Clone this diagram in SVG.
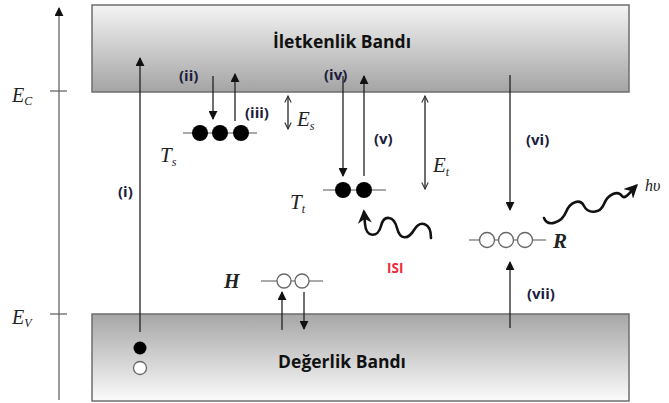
<svg xmlns="http://www.w3.org/2000/svg" width="669" height="403" viewBox="0 0 669 403">
  <style>
    .band { stroke: #6e6e6e; stroke-width: 1.5; }
    .bandtxt { font-family: "Open Sans", "Liberation Sans", sans-serif; font-weight: bold; font-size: 17.5px; fill: #111; }
    .lbl { font-family: "Open Sans", "Liberation Sans", sans-serif; font-weight: bold; font-size: 15px; fill: #1c1c3c; }
    .math { font-family: "Liberation Serif", "DejaVu Serif", serif; font-style: italic; fill: #222; }
    .ln { stroke: #222; stroke-width: 1.3; fill: none; }
    .axis { stroke: #666; stroke-width: 1.3; fill: none; }
    .lvl { stroke: #555; stroke-width: 1.2; }
    .full { fill: #000; }
    .empty { fill: #fff; stroke: #666; stroke-width: 1.3; }
    .wave { stroke: #111; stroke-width: 2.6; fill: none; stroke-linecap: round; }
  </style>
  <defs>
    <linearGradient id="gradCB" x1="0" y1="0" x2="0" y2="1">
      <stop offset="0" stop-color="#f4f4f4"/>
      <stop offset="1" stop-color="#a4a4a4"/>
    </linearGradient>
    <linearGradient id="gradVB" x1="0" y1="0" x2="0" y2="1">
      <stop offset="0" stop-color="#a6a6a6"/>
      <stop offset="1" stop-color="#fbfbfb"/>
    </linearGradient>
    <marker id="ah" viewBox="0 0 10 10" refX="9" refY="5" markerWidth="9" markerHeight="9" markerUnits="userSpaceOnUse" orient="auto">
      <path d="M0,0 L10,5 L0,10 Z" fill="#111"/>
    </marker>
    <marker id="ahOpen" viewBox="0 0 10 10" refX="9" refY="5" markerWidth="8" markerHeight="8" markerUnits="userSpaceOnUse" orient="auto-start-reverse">
      <path d="M1,1 L9,5 L1,9" fill="none" stroke="#333" stroke-width="1.4"/>
    </marker>
    <marker id="ahBig" viewBox="0 0 10 10" refX="8" refY="5" markerWidth="14" markerHeight="14" markerUnits="userSpaceOnUse" orient="auto">
      <path d="M0,0 L10,5 L0,10 L3,5 Z" fill="#111"/>
    </marker>
  </defs>

  <!-- energy axis -->
  <g id="axis">
    <line class="axis" x1="59" y1="400" x2="59" y2="8" marker-end="url(#ah)"/>
    <line class="axis" x1="50" y1="91" x2="67" y2="91"/>
    <line class="axis" x1="50" y1="314" x2="67" y2="314"/>
    <text class="math" x="12" y="102" font-size="20">E<tspan font-size="12" dy="3">C</tspan></text>
    <text class="math" x="12" y="324" font-size="20">E<tspan font-size="12" dy="3">V</tspan></text>
  </g>

  <!-- bands -->
  <g id="conduction-band">
    <rect class="band" x="92" y="5" width="537" height="87" fill="url(#gradCB)"/>
    <text class="bandtxt" x="342" y="48" text-anchor="middle">İletkenlik Bandı</text>
  </g>
  <g id="valence-band">
    <rect class="band" x="92" y="314" width="537" height="87" fill="url(#gradVB)"/>
    <text class="bandtxt" x="342" y="368" text-anchor="middle">Değerlik Bandı</text>
  </g>

  <!-- trap / centre levels -->
  <g id="Ts">
    <line class="lvl" x1="183" y1="133" x2="257" y2="133"/>
    <circle class="full" cx="200" cy="133" r="8"/>
    <circle class="full" cx="220" cy="133" r="8"/>
    <circle class="full" cx="241" cy="133" r="8"/>
    <text class="math" x="160" y="162" font-size="21">T<tspan font-size="12" dy="4">s</tspan></text>
  </g>
  <g id="Tt">
    <line class="lvl" x1="323" y1="190" x2="386" y2="190"/>
    <circle class="full" cx="343" cy="190" r="8"/>
    <circle class="full" cx="364" cy="190" r="8"/>
    <text class="math" x="290" y="209" font-size="21">T<tspan font-size="12" dy="4">t</tspan></text>
  </g>
  <g id="H">
    <line class="lvl" x1="261" y1="281" x2="323" y2="281"/>
    <circle class="empty" cx="284" cy="281" r="7"/>
    <circle class="empty" cx="302" cy="281" r="7"/>
    <text class="math" x="224" y="288" font-size="20" font-weight="bold">H</text>
  </g>
  <g id="R">
    <line class="lvl" x1="469" y1="240" x2="546" y2="240"/>
    <circle class="empty" cx="487" cy="240" r="7.5"/>
    <circle class="empty" cx="506" cy="240" r="7.5"/>
    <circle class="empty" cx="525" cy="240" r="7.5"/>
    <text class="math" x="553" y="248" font-size="21" font-weight="bold">R</text>
  </g>
  <g id="pair">
    <circle class="full" cx="140" cy="348" r="6.5"/>
    <circle class="empty" cx="140" cy="368" r="6.5"/>
  </g>

  <!-- transitions -->
  <g id="connectors">
    <line class="ln" x1="140" y1="332" x2="140" y2="58" marker-end="url(#ah)"/>
    <line class="ln" x1="213" y1="76" x2="213" y2="119" marker-end="url(#ah)"/>
    <line class="ln" x1="235" y1="121" x2="235" y2="74" marker-end="url(#ah)"/>
    <line class="ln" x1="288" y1="96" x2="288" y2="129" marker-start="url(#ahOpen)" marker-end="url(#ahOpen)"/>
    <line class="ln" x1="343" y1="76" x2="343" y2="176" marker-end="url(#ah)"/>
    <line class="ln" x1="364" y1="176" x2="364" y2="76" marker-end="url(#ah)"/>
    <line class="ln" x1="425" y1="96" x2="425" y2="189" marker-start="url(#ahOpen)" marker-end="url(#ahOpen)"/>
    <line class="ln" x1="510" y1="75" x2="510" y2="210" marker-end="url(#ah)"/>
    <line class="ln" x1="510" y1="328" x2="510" y2="262" marker-end="url(#ah)"/>
    <line class="ln" x1="282" y1="330" x2="282" y2="292" marker-end="url(#ah)"/>
    <line class="ln" x1="304" y1="292" x2="304" y2="329" marker-end="url(#ah)"/>
    <!-- heat wave -->
    <path class="wave" d="M431,238 C431,222 420,220 414,230 C408,240 400,240 397,228 C394,216 384,214 381,226 C378,238 366,238 365,224 L364,212" marker-end="url(#ahBig)"/>
    <!-- emitted photon -->
    <path class="wave" d="M544,218 C548,228 562,222 566,212 C570,202 580,198 584,206 C588,214 600,214 604,204 C608,194 618,190 622,196 C625,200 630,192 636,186" marker-end="url(#ahBig)"/>
  </g>

  <!-- labels -->
  <g id="labels">
    <text class="lbl" x="118" y="197">(i)</text>
    <text class="lbl" x="179" y="81">(ii)</text>
    <text class="lbl" x="245" y="118">(iii)</text>
    <text class="math" x="297" y="126" font-size="21">E<tspan font-size="12" dy="4">s</tspan></text>
    <text class="lbl" x="324" y="80">(iv)</text>
    <text class="lbl" x="374" y="144">(v)</text>
    <text class="math" x="433" y="172" font-size="21">E<tspan font-size="12" dy="4">t</tspan></text>
    <text class="lbl" x="526" y="145">(vi)</text>
    <text class="lbl" x="527" y="299">(vii)</text>
    <text x="387" y="273" font-family="'Open Sans', 'Liberation Sans', sans-serif" font-weight="bold" font-size="13.5" fill="#ee2a3a">ISI</text>
    <text class="math" x="645" y="191" font-size="16">hυ</text>
  </g>
</svg>
